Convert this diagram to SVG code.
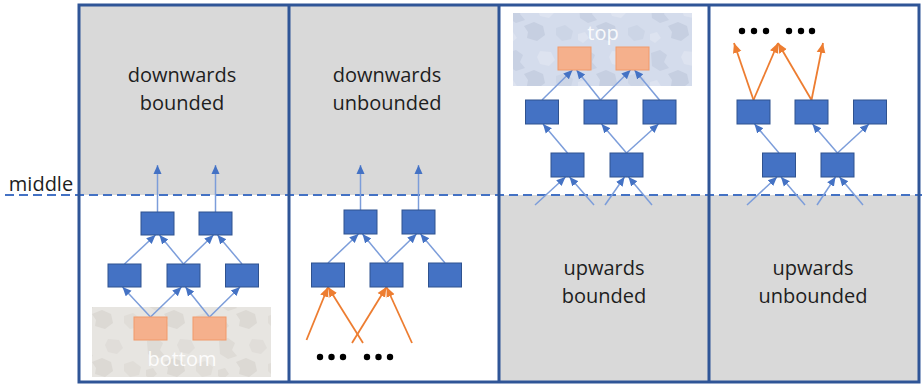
<svg xmlns="http://www.w3.org/2000/svg" width="922" height="385" viewBox="0 0 922 385">
  <defs>
    <style>
      .panel-gray { fill: #D9D9D9; }
      .frame { fill: none; stroke: #2F5597; stroke-width: 3; }
      .middle { stroke: #4472C4; stroke-width: 2; stroke-dasharray: 9 5; fill: none; }
      .node { fill: #4472C4; stroke: #2F528F; stroke-width: 1; }
      .seed { fill: #F5B08C; stroke: #F19A6A; stroke-width: 1; }
      .edge { stroke: #7C9DDA; stroke-width: 1.5; fill: none; marker-end: url(#arrowBlue); }
      .oedge { stroke: #ED7D31; stroke-width: 1.8; fill: none; marker-end: url(#arrowOrange); }
      .label { font-family: "Open Sans", "Liberation Sans", sans-serif; font-size: 20px; fill: #1E1E1E; text-anchor: middle; }
      .region-label { font-family: "Open Sans", "Liberation Sans", sans-serif; font-size: 20px; fill: #FFFFFF; fill-opacity: 0.9; text-anchor: middle; }
      .dot { fill: #000000; }
    </style>
    <marker id="arrowBlue" markerUnits="userSpaceOnUse" markerWidth="10" markerHeight="10" viewBox="0 0 10 10" refX="9" refY="5" orient="auto">
      <path d="M0,1 L9,5 L0,9 Z" fill="#4472C4"/>
    </marker>
    <marker id="arrowOrange" markerUnits="userSpaceOnUse" markerWidth="11" markerHeight="11" viewBox="0 0 10 10" refX="9" refY="5" orient="auto">
      <path d="M0,1 L9,5 L0,9 Z" fill="#ED7D31"/>
    </marker>
    <!-- mottled fill for the bottom region -->
    <pattern id="camoGray" patternUnits="userSpaceOnUse" width="72" height="48">
      <rect width="72" height="48" fill="#E7E5E1"/>
      <path d="M3,5 l9,-3 l7,5 l-3,7 l5,6 l-9,3 l-8,-5 z" fill="#DEDBD6"/>
      <path d="M36,3 l11,1 l4,8 l-6,6 l-9,-2 l-3,-7 z" fill="#E0DDD9"/>
      <path d="M20,26 l10,-4 l9,4 l2,9 l-8,6 l-10,-3 l1,-6 z" fill="#DCD9D4"/>
      <path d="M52,28 l9,-3 l8,6 l-2,8 l-9,2 l-6,-6 z" fill="#E0DDD8"/>
      <path d="M2,34 l7,-2 l4,6 l-6,5 l-5,-3 z" fill="#DEDBD6"/>
    </pattern>
    <!-- mottled fill for the top region -->
    <pattern id="camoBlue" patternUnits="userSpaceOnUse" width="72" height="48">
      <rect width="72" height="48" fill="#D4DCEC"/>
      <path d="M3,5 l9,-3 l7,5 l-3,7 l5,6 l-9,3 l-8,-5 z" fill="#C8D1E3"/>
      <path d="M36,3 l11,1 l4,8 l-6,6 l-9,-2 l-3,-7 z" fill="#DDE3F0"/>
      <path d="M20,26 l10,-4 l9,4 l2,9 l-8,6 l-10,-3 l1,-6 z" fill="#C6CFE1"/>
      <path d="M52,28 l9,-3 l8,6 l-2,8 l-9,2 l-6,-6 z" fill="#CCD5E6"/>
      <path d="M2,34 l7,-2 l4,6 l-6,5 l-5,-3 z" fill="#DDE3F0"/>
    </pattern>
  </defs>

  <!-- background regions -->
  <rect x="0" y="0" width="922" height="385" fill="#FFFFFF"/>
  <rect class="panel-gray" x="79" y="5" width="420" height="190"/>
  <rect class="panel-gray" x="499" y="195" width="420" height="187"/>

  <!-- middle boundary -->
  <line class="middle" x1="5" y1="195" x2="922" y2="195"/>
  <text class="label" x="41" y="191">middle</text>

  <!-- bounded regions -->
  <g id="bottom-region">
    <rect x="92" y="307" width="179" height="70" fill="url(#camoGray)"/>
    <text class="region-label" x="182" y="366">bottom</text>
  </g>
  <g id="top-region">
    <rect x="513" y="13" width="179" height="73" fill="url(#camoBlue)"/>
    <text class="region-label" x="603" y="40">top</text>
  </g>

  <!-- panel frames -->
  <g id="frames">
    <rect class="frame" x="79" y="5" width="840" height="377"/>
    <line class="frame" x1="289" y1="5" x2="289" y2="382"/>
    <line class="frame" x1="499" y1="5" x2="499" y2="382"/>
    <line class="frame" x1="709" y1="5" x2="709" y2="382"/>
  </g>

  <!-- panel captions -->
  <g id="captions">
    <text class="label" x="182" y="82">downwards</text>
    <text class="label" x="182" y="110">bounded</text>
    <text class="label" x="387" y="82">downwards</text>
    <text class="label" x="387" y="110">unbounded</text>
    <text class="label" x="604" y="275">upwards</text>
    <text class="label" x="604" y="303">bounded</text>
    <text class="label" x="813" y="275">upwards</text>
    <text class="label" x="813" y="303">unbounded</text>
  </g>

  <!-- connectors -->
  <g id="connectors">
    <!-- panel 1 -->
    <line class="edge" x1="157.5" y1="212" x2="157.5" y2="165"/>
    <line class="edge" x1="215.5" y1="212" x2="215.5" y2="165"/>
    <line class="edge" x1="124.5" y1="264" x2="155.5" y2="235"/>
    <line class="edge" x1="183.5" y1="264" x2="159.5" y2="235"/>
    <line class="edge" x1="183.5" y1="264" x2="213.5" y2="235"/>
    <line class="edge" x1="242" y1="264" x2="217.5" y2="235"/>
    <line class="edge" x1="150.5" y1="317" x2="122.5" y2="287"/>
    <line class="edge" x1="150.5" y1="317" x2="181.5" y2="287"/>
    <line class="edge" x1="209.5" y1="317" x2="185.5" y2="287"/>
    <line class="edge" x1="209.5" y1="317" x2="240" y2="287"/>
    <!-- panel 2 -->
    <line class="edge" x1="360.5" y1="210" x2="360.5" y2="165"/>
    <line class="edge" x1="418.5" y1="210" x2="418.5" y2="165"/>
    <line class="edge" x1="328" y1="263" x2="358.5" y2="234"/>
    <line class="edge" x1="386.5" y1="263" x2="362.5" y2="234"/>
    <line class="edge" x1="386.5" y1="263" x2="416.5" y2="234"/>
    <line class="edge" x1="445" y1="263" x2="420.5" y2="234"/>
    <line class="oedge" x1="306.5" y1="340" x2="328" y2="287"/>
    <line class="oedge" x1="363" y1="343" x2="328" y2="287"/>
    <line class="oedge" x1="352" y1="343" x2="386.5" y2="287"/>
    <line class="oedge" x1="412" y1="343" x2="386.5" y2="287"/>
    <!-- panel 3 -->
    <line class="edge" x1="542" y1="100" x2="572.5" y2="70"/>
    <line class="edge" x1="600.5" y1="100" x2="576.5" y2="70"/>
    <line class="edge" x1="600.5" y1="100" x2="630.5" y2="70"/>
    <line class="edge" x1="659.5" y1="100" x2="634.5" y2="70"/>
    <line class="edge" x1="567.5" y1="153" x2="543" y2="124"/>
    <line class="edge" x1="626.5" y1="153" x2="601.5" y2="124"/>
    <line class="edge" x1="626.5" y1="153" x2="658.5" y2="124"/>
    <line class="edge" x1="535" y1="205" x2="565.5" y2="177"/>
    <line class="edge" x1="594" y1="205" x2="569.5" y2="177"/>
    <line class="edge" x1="605" y1="205" x2="624.5" y2="177"/>
    <line class="edge" x1="652" y1="205" x2="628.5" y2="177"/>
    <!-- panel 4 -->
    <line class="edge" x1="779" y1="153" x2="754.5" y2="124"/>
    <line class="edge" x1="837.5" y1="153" x2="812.5" y2="124"/>
    <line class="edge" x1="837.5" y1="153" x2="869" y2="124"/>
    <line class="edge" x1="747" y1="205" x2="777" y2="177"/>
    <line class="edge" x1="805" y1="205" x2="781" y2="177"/>
    <line class="edge" x1="817" y1="205" x2="835.5" y2="177"/>
    <line class="edge" x1="863" y1="205" x2="839.5" y2="177"/>
    <line class="oedge" x1="753.5" y1="100" x2="734" y2="43"/>
    <line class="oedge" x1="753.5" y1="100" x2="778" y2="43"/>
    <line class="oedge" x1="811.5" y1="100" x2="778" y2="43"/>
    <line class="oedge" x1="811.5" y1="100" x2="823" y2="43"/>
  </g>

  <!-- panel 1 nodes -->
  <g id="p1-top1"><rect class="node" x="141" y="212" width="33" height="23"/></g>
  <g id="p1-top2"><rect class="node" x="199" y="212" width="33" height="23"/></g>
  <g id="p1-mid1"><rect class="node" x="108" y="264" width="33" height="23"/></g>
  <g id="p1-mid2"><rect class="node" x="167" y="264" width="33" height="23"/></g>
  <g id="p1-mid3"><rect class="node" x="225.5" y="264" width="33" height="23"/></g>
  <g id="p1-seed1"><rect class="seed" x="134" y="317" width="33" height="23"/></g>
  <g id="p1-seed2"><rect class="seed" x="193" y="317" width="33" height="23"/></g>

  <!-- panel 2 nodes -->
  <g id="p2-top1"><rect class="node" x="344" y="210" width="33" height="24"/></g>
  <g id="p2-top2"><rect class="node" x="402" y="210" width="33" height="24"/></g>
  <g id="p2-mid1"><rect class="node" x="311.5" y="263" width="33" height="24"/></g>
  <g id="p2-mid2"><rect class="node" x="370" y="263" width="33" height="24"/></g>
  <g id="p2-mid3"><rect class="node" x="428.5" y="263" width="33" height="24"/></g>
  <g id="p2-more">
    <circle class="dot" cx="320" cy="357" r="3.2"/>
    <circle class="dot" cx="331.5" cy="357" r="3.2"/>
    <circle class="dot" cx="343" cy="357" r="3.2"/>
    <circle class="dot" cx="367" cy="357" r="3.2"/>
    <circle class="dot" cx="378.5" cy="357" r="3.2"/>
    <circle class="dot" cx="390" cy="357" r="3.2"/>
  </g>

  <!-- panel 3 nodes -->
  <g id="p3-seed1"><rect class="seed" x="558" y="47" width="33" height="23"/></g>
  <g id="p3-seed2"><rect class="seed" x="616" y="47" width="33" height="23"/></g>
  <g id="p3-mid1"><rect class="node" x="525.5" y="100" width="33" height="24"/></g>
  <g id="p3-mid2"><rect class="node" x="584" y="100" width="33" height="24"/></g>
  <g id="p3-mid3"><rect class="node" x="643" y="100" width="33" height="24"/></g>
  <g id="p3-low1"><rect class="node" x="551" y="153" width="33" height="24"/></g>
  <g id="p3-low2"><rect class="node" x="610" y="153" width="33" height="24"/></g>

  <!-- panel 4 nodes -->
  <g id="p4-mid1"><rect class="node" x="737" y="100" width="33" height="24"/></g>
  <g id="p4-mid2"><rect class="node" x="795" y="100" width="33" height="24"/></g>
  <g id="p4-mid3"><rect class="node" x="853.5" y="100" width="33" height="24"/></g>
  <g id="p4-low1"><rect class="node" x="762.5" y="153" width="33" height="24"/></g>
  <g id="p4-low2"><rect class="node" x="821" y="153" width="33" height="24"/></g>
  <g id="p4-more">
    <circle class="dot" cx="742" cy="31" r="3.2"/>
    <circle class="dot" cx="754" cy="31" r="3.2"/>
    <circle class="dot" cx="766" cy="31" r="3.2"/>
    <circle class="dot" cx="789" cy="31" r="3.2"/>
    <circle class="dot" cx="801" cy="31" r="3.2"/>
    <circle class="dot" cx="812" cy="31" r="3.2"/>
  </g>
</svg>
